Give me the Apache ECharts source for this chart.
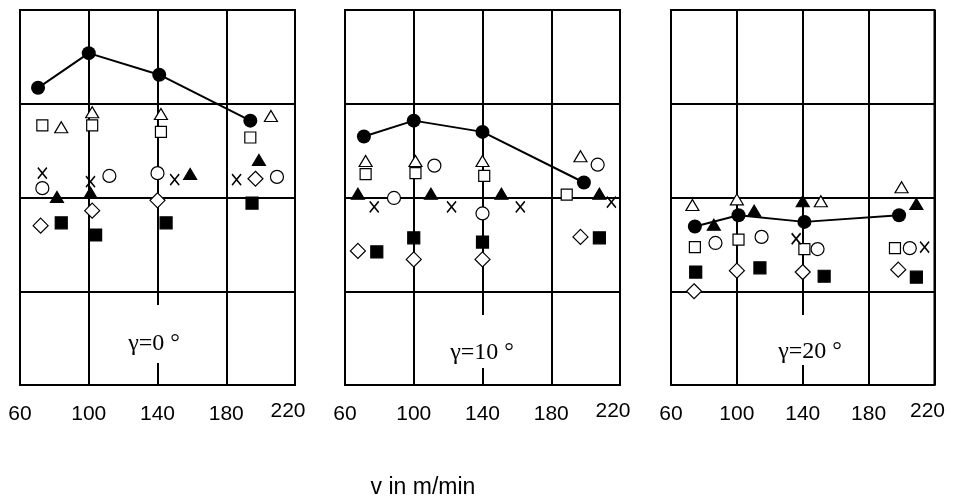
<!DOCTYPE html>
<html>
<head>
<meta charset="utf-8">
<script src="https://cdn.jsdelivr.net/npm/echarts@6/dist/echarts.min.js"></script>
<style>
  html, body { margin: 0; padding: 0; background: #fff; }
  #main { width: 962px; height: 503px; }
</style>
</head>
<body>
<div id="main"></div>
<script>
// one entry per panel (gamma = 0, 10, 20 deg); points are [v in m/min, value]
var panelTitles = ['γ=0 °', 'γ=10 °', 'γ=20 °'];
var xTicks = [60, 100, 140, 180, 220];

var filledCircle = [
  [[70.5, 317], [100, 354], [141, 331], [194, 282]],
  [[71, 265], [100, 282], [140, 270], [199, 216]],
  [[74.5, 169], [101, 181], [141, 174], [198.5, 181]]
];
var openTriangle = [
  [[84, 275], [102, 291], [142, 289], [206, 287]],
  [[72, 239], [101, 239], [140, 239], [197, 244]],
  [[73, 192], [100, 198], [151, 196], [200, 211]]
];
var openSquare = [
  [[73, 277], [102, 277], [142, 270], [194, 264]],
  [[72, 225], [101, 226], [141, 223], [189, 203]],
  [[74.5, 147], [101, 155], [141, 145], [196, 146]]
];
var crossMark = [
  [[73, 226], [101, 217], [150, 219], [186, 219]],
  [[77, 190], [122, 190], [162, 190], [215, 195]],
  [[136, 156], [214, 147]]
];
var openCircle = [
  [[73, 210], [112, 223], [140, 226], [209.5, 222]],
  [[88.5, 199.5], [112, 234], [140, 183], [207, 235]],
  [[87, 151.5], [115, 158], [149, 145], [205, 146]]
];
var filledTriangle = [
  [[81.5, 200.5], [101, 205], [159, 225], [199, 240]],
  [[67.5, 204], [110, 204], [151, 204], [208, 204]],
  [[86, 171], [110.5, 186], [140, 196], [209, 193]]
];
var openDiamond = [
  [[72, 170], [102, 186], [140, 197], [197, 220]],
  [[67.5, 143], [100, 134], [140, 134], [197, 158]],
  [[74, 100], [100, 122], [140, 120.5], [198, 123]]
];
var filledSquare = [
  [[84, 173], [104, 160], [145, 173], [195, 194]],
  [[78.5, 142], [100, 157], [140, 152.5], [208, 157]],
  [[75, 120.5], [114, 125], [153, 116], [209, 115]]
];

var chart = echarts.init(document.getElementById('main'));

var gridLefts = [20, 345, 671];
var markers = [
  {data: openTriangle, symbol: 'triangle', size: [13, 11], fill: '#fff'},
  {data: openSquare, symbol: 'rect', size: 11, fill: '#fff'},
  {data: crossMark, symbol: 'path://M0,0L10,12M10,0L0,12', size: [9, 11], fill: 'none'},
  {data: openCircle, symbol: 'circle', size: 13, fill: '#fff'},
  {data: filledTriangle, symbol: 'triangle', size: [13, 11], fill: '#000'},
  {data: openDiamond, symbol: 'diamond', size: 15, fill: '#fff'},
  {data: filledSquare, symbol: 'rect', size: 12, fill: '#000'}
];

var grids = [], xAxes = [], yAxes = [], series = [];
gridLefts.forEach(function (left, i) {
  grids.push({
    left: left, top: 10, width: 275, height: 375,
    show: true, borderColor: '#000', borderWidth: 2
  });
  xAxes.push({
    type: 'value', gridIndex: i, min: 60, max: 220, interval: 40,
    axisLine: {show: true, onZero: false, lineStyle: {color: '#000', width: 2}},
    axisTick: {show: false},
    splitLine: {show: true, lineStyle: {color: '#000', width: 2}},
    axisLabel: {
      margin: 17,
      formatter: function (v) {
        return v === 220 ? '{r|' + v + '}' : '{n|' + v + '}';
      },
      rich: {
        n: {fontFamily: 'Liberation Sans', fontSize: 21, color: '#000', lineHeight: 24},
        r: {fontFamily: 'Liberation Sans', fontSize: 21, color: '#000', lineHeight: 18, padding: [0, 14, 0, 0]}
      }
    }
  });
  yAxes.push({
    type: 'value', gridIndex: i, min: 0, max: 400, interval: 100,
    axisLine: {show: true, lineStyle: {color: '#000', width: 2}},
    axisTick: {show: false},
    axisLabel: {show: false},
    splitLine: {show: true, lineStyle: {color: '#000', width: 2}}
  });

  markers.forEach(function (m) {
    series.push({
      type: 'scatter', xAxisIndex: i, yAxisIndex: i,
      data: m.data[i], symbol: m.symbol, symbolSize: m.size,
      itemStyle: {color: m.fill, borderColor: '#000', borderWidth: m.fill === 'none' ? 1.6 : 1.2, opacity: 1},
      z: 3
    });
  });

  series.push({
    type: 'line', xAxisIndex: i, yAxisIndex: i,
    data: filledCircle[i], symbol: 'circle', symbolSize: 14,
    showSymbol: true,
    itemStyle: {color: '#000', borderColor: '#000', borderWidth: 0},
    lineStyle: {color: '#000', width: 2},
    z: 4
  });
});

// white cut-outs of the 140 grid line behind the gamma labels, then the labels
var labelPos = [[154, 344], [482, 353], [810, 352]];
var cutouts = [[150, 305, 58], [475, 315, 53], [801, 315, 50]];
var graphics = [];
cutouts.forEach(function (c) {
  graphics.push({type: 'rect', shape: {x: c[0], y: c[1], width: 16, height: c[2]},
    style: {fill: '#fff'}, z: 50});
});
labelPos.forEach(function (p, i) {
  graphics.push({type: 'text', x: p[0], y: p[1], z: 60,
    style: {text: panelTitles[i], fill: '#000', font: '24px "Liberation Serif"',
      textAlign: 'center', textVerticalAlign: 'middle'}});
});
graphics.push({type: 'text', x: 423, y: 488, z: 60,
  style: {text: 'v in m/min', fill: '#000', font: '23px "Liberation Sans"',
    textAlign: 'center', textVerticalAlign: 'middle'}});

chart.setOption({
  animation: false,
  grid: grids,
  xAxis: xAxes,
  yAxis: yAxes,
  series: series,
  graphic: graphics
});
</script>
</body>
</html>
